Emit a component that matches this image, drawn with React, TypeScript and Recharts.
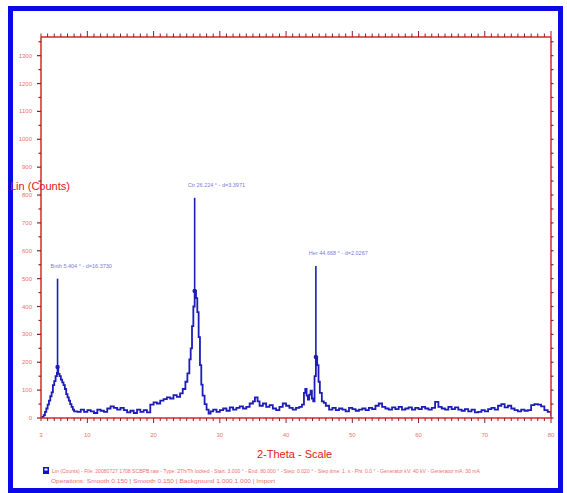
import React from 'react';
import { ComposedChart, Line, XAxis, YAxis, ReferenceLine, ReferenceDot } from 'recharts';

const twoTheta = [
  3.0, 3.2, 3.4, 3.6, 3.8, 4.0, 4.2, 4.4, 4.6, 4.8, 5.0, 5.2, 5.4, 5.5, 5.6, 5.8, 6.0, 6.2, 6.4, 6.6, 6.8, 7.0, 7.2, 7.4, 7.6, 7.8, 8.0,
  8.5, 9, 9.5, 10, 10.5, 11, 11.5, 12, 12.5, 13, 13.5, 14, 14.5, 15, 15.5, 16, 16.5, 17, 17.5, 18, 18.5, 19,
  19.5, 20, 20.5, 21, 21.5, 22, 22.5, 23, 23.5, 24, 24.4, 24.8, 25.1, 25.4, 25.6, 25.8, 26.0, 26.2, 26.4, 26.6, 26.8, 27.0, 27.2, 27.4, 27.7, 28.0, 28.3, 28.6,
  29, 29.5, 30, 30.5, 31, 31.5, 32, 32.5, 33, 33.5, 34, 34.5, 35, 35.3, 35.7, 36, 36.5, 37, 37.5, 38, 38.5, 39, 39.5, 40, 40.5, 41, 41.5, 42, 42.4,
  42.7, 42.9, 43.1, 43.3, 43.5, 43.7, 43.9, 44.1, 44.3, 44.5, 44.7, 44.9, 45.1, 45.4, 45.7, 46.0,
  46.5, 47, 47.5, 48, 48.5, 49, 49.5, 50, 50.5, 51, 51.5, 52, 52.5, 53, 53.5, 54, 54.5, 55, 55.5, 56, 56.5, 57, 57.5, 58, 58.5, 59, 59.5, 60,
  60.5, 61, 61.5, 62, 62.5, 63, 63.5, 64, 64.5, 65, 65.5, 66, 66.5, 67, 67.5, 68, 68.5, 69, 69.5, 70, 70.5, 71, 71.5, 72, 72.5, 73, 73.5, 74,
  74.5, 75, 75.5, 76, 76.5, 77, 77.5, 78, 78.5, 79, 79.5, 80,
];

const counts = [
  0, 4, 10, 22, 34, 48, 62, 78, 92, 118, 132, 150, 162, 183, 158, 150, 138, 128, 118, 104, 86, 74, 62, 50, 40, 30, 24,
  22, 30, 22, 28, 24, 18, 30, 26, 22, 34, 42, 36, 30, 36, 28, 20, 26, 18, 30, 22, 28, 20,
  48, 56, 52, 62, 68, 74, 70, 82, 76, 88, 104, 130, 160, 210, 250, 330, 400, 456, 430, 380, 290, 190, 120, 80, 50, 30, 16, 24,
  30, 22, 28, 34, 26, 38, 30, 36, 42, 34, 40, 52, 60, 74, 60, 44, 52, 40, 46, 34, 28, 40, 52, 44, 36, 30, 36, 40, 48,
  90, 104, 80, 66, 84, 98, 70, 60, 150, 219, 190, 130, 90, 60, 54, 44,
  30, 36, 28, 34, 30, 24, 36, 32, 26, 30, 34, 28, 36, 32, 44, 52, 40, 34, 30, 38, 32, 40, 30, 34, 38, 30, 36, 32,
  40, 34, 30, 36, 58, 40, 34, 30, 40, 32, 38, 30, 26, 32, 24, 30, 20, 22, 28, 24, 32, 36, 30, 44, 50, 38, 44, 34,
  28, 24, 30, 26, 28, 46, 50, 48, 42, 28, 22, 8,
];

const xTickLabels = [3, 10, 20, 30, 40, 50, 60, 70, 80];
const yTickLabels = [0, 100, 200, 300, 400, 500, 600, 700, 800, 900, 1000, 1100, 1200, 1300];

const peakPositions = [5.5, 26.2, 44.5];
const peakCounts = [183, 456, 219];
const stickTops = [500, 790, 545];
const peakLabels = ['Bnth 5.404 ° - d=16.3730', 'Ctr 26.224 ° - d=3.3971', 'Her 44.668 ° - d=2.0267'];

const xMinorTicks: number[] = [];
for (let v = 3; v <= 80; v += 1) xMinorTicks.push(v);
const yMinorTicks: number[] = [];
for (let v = 0; v <= 1350; v += 50) yMinorTicks.push(v);

const data = twoTheta.map((t, i) => ({ t, c: counts[i] }));

const AXIS = '#d42a2a';
const TICK = '#8a2020';
const LABEL = '#ee7070';
const BLUE = '#1c1cb8';

const BottomTick = (props: any) => {
  const { x, y, payload } = props;
  const v = payload.value;
  const major = v % 10 === 0;
  return (
    <g>
      <line x1={x} y1={y} x2={x} y2={y + (major ? 5 : 3)} stroke={TICK} strokeWidth={1} />
      {xTickLabels.includes(v) && (
        <text x={x} y={y + 19} textAnchor="middle" fontSize={6} fill={LABEL} fontFamily="Arial, Liberation Sans">
          {v}
        </text>
      )}
    </g>
  );
};

const TopTick = (props: any) => {
  const { x, y, payload } = props;
  const major = payload.value % 10 === 0;
  return <line x1={x} y1={y} x2={x} y2={y - (major ? 6 : 3.5)} stroke={TICK} strokeWidth={1} />;
};

const LeftTick = (props: any) => {
  const { x, y, payload } = props;
  const v = payload.value;
  const major = v % 100 === 0;
  return (
    <g>
      <line x1={x} y1={y} x2={x - (major ? 4 : 2.5)} y2={y} stroke={TICK} strokeWidth={1.2} />
      {yTickLabels.includes(v) && (
        <text x={x - 9} y={y + 2} textAnchor="end" fontSize={6} fill={LABEL} fontFamily="Arial, Liberation Sans">
          {v}
        </text>
      )}
    </g>
  );
};

const RightTick = (props: any) => {
  const { x, y } = props;
  return <line x1={x} y1={y} x2={x + 2.5} y2={y} stroke={TICK} strokeWidth={1.2} />;
};

const PeakText = (text: string) => (props: any) => {
  const { cx, cy } = props;
  return (
    <text x={cx - 7} y={cy - 11} fontSize={5.5} fill="#7a7ad8" fontFamily="Arial, Liberation Sans">
      {text}
    </text>
  );
};

export default function App() {
  return (
    <div style={{ position: 'absolute', left: 0, top: 0, width: 567, height: 493, background: '#fff', overflow: 'hidden' }}>
      <div
        style={{
          position: 'absolute',
          left: 8,
          top: 6,
          width: 555,
          height: 487,
          border: '5px solid #0a0ae8',
          boxSizing: 'border-box',
        }}
      />
      <div style={{ position: 'absolute', left: 0, top: 0 }}>
        <ComposedChart width={567} height={493} data={data} margin={{ top: 36, right: 15, bottom: 74, left: 40 }}>
          <XAxis
            xAxisId="b"
            dataKey="t"
            type="number"
            domain={[3, 80]}
            ticks={xMinorTicks}
            interval={0}
            tickLine={false}
            tickSize={0}
            tickMargin={0}
            height={1}
            tick={<BottomTick />}
            axisLine={{ stroke: AXIS, strokeWidth: 1.5 }}
            allowDataOverflow
          />
          <XAxis
            xAxisId="top"
            orientation="top"
            dataKey="t"
            type="number"
            domain={[3, 80]}
            ticks={xMinorTicks}
            interval={0}
            tickLine={false}
            tickSize={0}
            tickMargin={0}
            height={1}
            tick={<TopTick />}
            axisLine={{ stroke: AXIS, strokeWidth: 1.5 }}
            allowDataOverflow
          />
          <YAxis
            yAxisId="l"
            type="number"
            domain={[0, 1367]}
            ticks={yMinorTicks}
            interval={0}
            tickLine={false}
            tickSize={0}
            tickMargin={0}
            width={1}
            tick={<LeftTick />}
            axisLine={{ stroke: AXIS, strokeWidth: 1.5 }}
            allowDataOverflow
          />
          <YAxis
            yAxisId="r"
            orientation="right"
            type="number"
            domain={[0, 1367]}
            ticks={yMinorTicks}
            interval={0}
            tickLine={false}
            tickSize={0}
            tickMargin={0}
            width={1}
            tick={<RightTick />}
            axisLine={{ stroke: AXIS, strokeWidth: 1.5 }}
            allowDataOverflow
          />
          <Line
            xAxisId="b"
            yAxisId="l"
            dataKey="c"
            type="stepAfter"
            stroke={BLUE}
            strokeWidth={1.8}
            dot={false}
            isAnimationActive={false}
          />
          {peakPositions.map((p, i) => (
            <ReferenceLine
              key={'s' + i}
              xAxisId="b"
              yAxisId="l"
              segment={[
                { x: p, y: peakCounts[i] },
                { x: p, y: stickTops[i] },
              ]}
              stroke={BLUE}
              strokeWidth={1.6}
            />
          ))}
          {peakPositions.map((p, i) => (
            <ReferenceDot key={'d' + i} xAxisId="b" yAxisId="l" x={p} y={peakCounts[i]} r={2.2} fill={BLUE} stroke="none" />
          ))}
          {peakPositions.map((p, i) => (
            <ReferenceDot
              key={'t' + i}
              xAxisId="b"
              yAxisId="l"
              x={p}
              y={stickTops[i]}
              r={0}
              shape={PeakText(peakLabels[i])}
            />
          ))}
        </ComposedChart>
      </div>
      <div
        style={{
          position: 'absolute',
          left: 10,
          top: 180,
          fontFamily: 'Arial, Liberation Sans',
          fontSize: 11,
          color: '#e01818',
          whiteSpace: 'nowrap',
          lineHeight: '12px',
        }}
      >
        Lin (Counts)
      </div>
      <div
        style={{
          position: 'absolute',
          left: 257,
          top: 448,
          fontFamily: 'Arial, Liberation Sans',
          fontSize: 11,
          color: '#e01818',
          whiteSpace: 'nowrap',
          lineHeight: '13px',
        }}
      >
        2-Theta - Scale
      </div>
      <svg style={{ position: 'absolute', left: 0, top: 0 }} width={567} height={493}>
        <rect x={43} y={467} width={6} height={7} fill="#1010d0" />
        <rect x={44.5} y={468.5} width={3} height={2} fill="#fff" />
        <text x={52} y={473} fontSize={5} fill={LABEL} fontFamily="Arial, Liberation Sans" textLength={428} lengthAdjust="spacingAndGlyphs">
          Lin (Counts) - File: 20080727 1708 SCBPB.raw - Type: 2Th/Th locked - Start: 3.000 ° - End: 80.000 ° - Step: 0.020 ° - Step time: 1. s - Phi: 0.0 ° - Generator kV: 40 kV - Generator mA: 30 mA
        </text>
        <text x={51} y={483} fontSize={5} fill={LABEL} fontFamily="Arial, Liberation Sans" textLength={224} lengthAdjust="spacingAndGlyphs">
          Operations: Smooth 0.150 | Smooth 0.150 | Background 1.000,1.000 | Import
        </text>
      </svg>
    </div>
  );
}
